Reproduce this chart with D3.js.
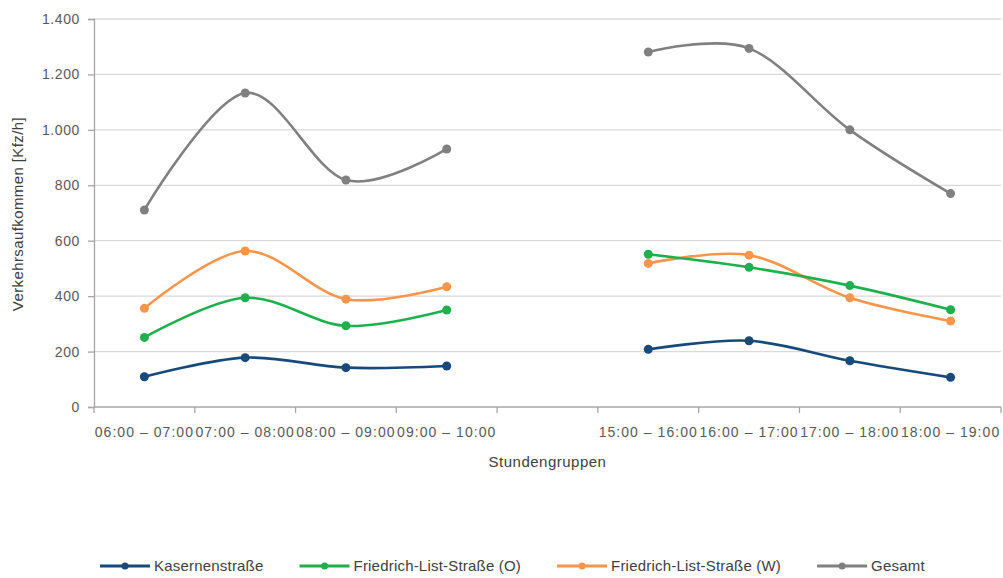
<!DOCTYPE html>
<html>
<head>
<meta charset="utf-8">
<script src="https://cdn.jsdelivr.net/npm/d3@7"></script>
<style>
  body { margin: 0; background: #fff; }
  svg { display: block; font-family: "Liberation Sans", Arial, sans-serif; }
</style>
</head>
<body>
<div id="chart"></div>
<script>
// --- Verkehrsaufkommen nach Stundengruppen ---

// categories (the 5th one is the empty midday gap)
const categories = [
  "06:00 - 07:00", "07:00 - 08:00", "08:00 - 09:00", "09:00 - 10:00", "",
  "15:00 - 16:00", "16:00 - 17:00", "17:00 - 18:00", "18:00 - 19:00"
];

const kasernenstrasse = [109, 178, 142, 148, null, 208, 239, 167, 107];
const friedrichListO  = [251, 394, 293, 350, null, 551, 504, 438, 351];
const friedrichListW  = [356, 563, 389, 434, null, 518, 548, 394, 310];
const gesamt          = [711, 1133, 819, 931, null, 1281, 1294, 1000, 770];

const seriesNames  = ["Kasernenstraße", "Friedrich-List-Straße (O)", "Friedrich-List-Straße (W)", "Gesamt"];
const seriesColors = ["#17497a", "#1db04c", "#f7954a", "#808080"];
const yTicks = [0, 200, 400, 600, 800, 1000, 1200, 1400];

(function () {
    const W = 1003, H = 578;
    const margin = { top: 19, right: 2, bottom: 171, left: 94 };
    const width = W - margin.left - margin.right;
    const height = H - margin.top - margin.bottom;

    const svg = d3.select("#chart").append("svg")
        .attr("width", W)
        .attr("height", H);

    const g = svg.append("g")
        .attr("transform", `translate(${margin.left},${margin.top})`);

    const x = d3.scaleBand()
        .domain(d3.range(categories.length))
        .range([0, width]);

    const y = d3.scaleLinear()
        .domain([0, 1400])
        .range([height, 0]);

    const deFormat = d3.formatLocale({ decimal: ",", thousands: ".", grouping: [3], currency: ["", "€"] }).format(",.0f");

    // gridlines
    g.append("g")
        .selectAll("line")
        .data(yTicks.filter(d => d > 0))
        .join("line")
        .attr("x1", 0)
        .attr("x2", width)
        .attr("y1", d => y(d))
        .attr("y2", d => y(d))
        .attr("stroke", "#d9d9d9")
        .attr("stroke-width", 1.3);

    // y axis
    const yAxis = g.append("g")
        .call(d3.axisLeft(y).tickValues(yTicks).tickSize(6).tickPadding(8).tickFormat(deFormat));
    yAxis.select(".domain").attr("stroke", "#a6a6a6").attr("stroke-width", 1.3);
    yAxis.selectAll(".tick line").attr("stroke", "#a6a6a6").attr("stroke-width", 1.3);
    yAxis.selectAll(".tick text")
        .attr("fill", "#595959")
        .style("font-size", "14px")
        .style("letter-spacing", "0.6px");

    // x axis: ticks at category boundaries
    const xAxis = g.append("g").attr("transform", `translate(0,${height})`);
    xAxis.append("line")
        .attr("x1", 0).attr("x2", width)
        .attr("stroke", "#a6a6a6").attr("stroke-width", 1.3);
    xAxis.selectAll(".xtick")
        .data(d3.range(categories.length + 1))
        .join("line")
        .attr("class", "xtick")
        .attr("x1", i => i * x.step())
        .attr("x2", i => i * x.step())
        .attr("y1", 0).attr("y2", 6)
        .attr("stroke", "#a6a6a6").attr("stroke-width", 1.3);
    xAxis.selectAll(".xlabel")
        .data(categories)
        .join("text")
        .attr("class", "xlabel")
        .attr("x", (d, i) => x(i) + x.bandwidth() / 2)
        .attr("y", 30)
        .attr("text-anchor", "middle")
        .attr("fill", "#595959")
        .style("font-size", "14px")
        .style("letter-spacing", "1.05px")
        .text(d => d.replace(" - ", " \u2013 "));

    // axis titles
    g.append("text")
        .attr("x", width / 2)
        .attr("y", height + 60)
        .attr("text-anchor", "middle")
        .attr("fill", "#404040")
        .style("font-size", "15px")
        .style("letter-spacing", "0.5px")
        .text("Stundengruppen");

    svg.append("text")
        .attr("transform", `translate(23,${margin.top + 195}) rotate(-90)`)
        .attr("text-anchor", "middle")
        .attr("fill", "#404040")
        .style("font-size", "15px")
        .style("letter-spacing", "0.4px")
        .text("Verkehrsaufkommen [Kfz/h]");

    // lines
    const allSeries = [kasernenstrasse, friedrichListO, friedrichListW, gesamt];
    const line = d3.line()
        .defined(d => d != null)
        .x((d, i) => x(i) + x.bandwidth() / 2)
        .y(d => y(d))
        .curve(d3.curveCatmullRom.alpha(0));

    // draw Gesamt first so the detail series sit on top
    const order = [3, 2, 1, 0];
    order.forEach(s => {
        const values = allSeries[s];
        const sg = g.append("g");
        sg.append("path")
            .datum(values)
            .attr("fill", "none")
            .attr("stroke", seriesColors[s])
            .attr("stroke-width", 2.6)
            .attr("d", line);
        sg.selectAll("circle")
            .data(values.map((v, i) => ({ v, i })).filter(d => d.v != null))
            .join("circle")
            .attr("cx", d => x(d.i) + x.bandwidth() / 2)
            .attr("cy", d => y(d.v))
            .attr("r", 4.5)
            .attr("fill", seriesColors[s]);
    });

    // legend
    const legend = svg.append("g").attr("transform", "translate(100,566)");
    let lx = 0;
    seriesNames.forEach((name, s) => {
        const item = legend.append("g").attr("transform", `translate(${lx},0)`);
        item.append("line")
            .attr("x1", 0).attr("x2", 50)
            .attr("stroke", seriesColors[s])
            .attr("stroke-width", 2.8);
        item.append("circle")
            .attr("cx", 25).attr("r", 3.5)
            .attr("fill", seriesColors[s]);
        const t = item.append("text")
            .attr("x", 54)
            .attr("dy", "0.35em")
            .attr("fill", "#404040")
            .style("font-size", "15px")
            .style("letter-spacing", "0.2px")
            .text(name);
        lx += 54 + t.node().getComputedTextLength() + 36;
    });
})();
</script>
</body>
</html>
